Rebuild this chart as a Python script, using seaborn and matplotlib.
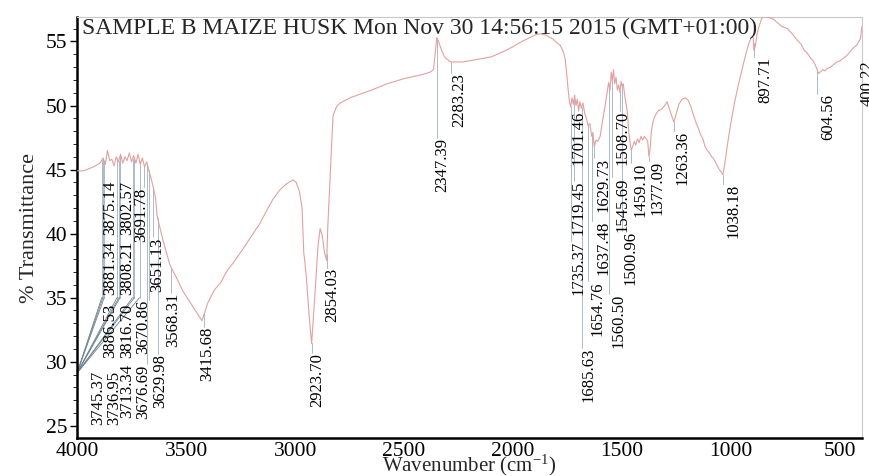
import numpy as np
import pandas as pd
import seaborn as sns
import matplotlib
matplotlib.use("Agg")
from matplotlib import pyplot as plt

TITLE = 'SAMPLE B MAIZE HUSK Mon Nov 30 14:56:15 2015 (GMT+01:00)'

# spectrum (wavenumber, % transmittance)
WAVENUMBER = [
    4000, 3970, 3940, 3915, 3895, 3880, 3870, 3860, 3850, 3840, 3830, 3820,
    3810, 3800, 3790, 3780, 3770, 3760, 3750, 3740, 3730, 3720, 3710, 3700,
    3690, 3680, 3670, 3660, 3650, 3640, 3633, 3606, 3573, 3545, 3514, 3480,
    3450, 3427, 3400, 3370, 3340, 3312, 3280, 3239, 3200, 3161, 3130, 3101,
    3070, 3046, 3020, 3009, 2995, 2980, 2968, 2960, 2955, 2948, 2935, 2924,
    2918, 2908, 2895, 2885, 2875, 2865, 2855, 2850, 2839, 2826, 2810, 2794,
    2770, 2748, 2700, 2650, 2578, 2500, 2420, 2381, 2365, 2350, 2342, 2330,
    2315, 2295, 2283, 2270, 2230, 2165, 2100, 2046, 2000, 1960, 1936, 1900,
    1876, 1850, 1830, 1817, 1800, 1784, 1770, 1761, 1755, 1748, 1742, 1736,
    1730, 1724, 1718, 1712, 1706, 1700, 1694, 1688, 1680, 1672, 1664, 1656,
    1648, 1640, 1634, 1628, 1620, 1612, 1601, 1590, 1580, 1569, 1562, 1556,
    1550, 1545, 1540, 1534, 1528, 1522, 1516, 1510, 1505, 1500, 1495, 1490,
    1484, 1477, 1470, 1463, 1458, 1450, 1444, 1438, 1430, 1422, 1414, 1406,
    1398, 1390, 1383, 1377, 1372, 1366, 1358, 1349, 1335, 1320, 1305, 1294,
    1285, 1275, 1263, 1250, 1240, 1225, 1210, 1197, 1185, 1174, 1160, 1150,
    1142, 1130, 1120, 1110, 1100, 1090, 1083, 1070, 1055, 1045, 1038, 1030,
    1015, 1000, 985, 970, 959, 945, 930, 920, 913, 905, 899, 896, 890, 880,
    870, 860, 853, 840, 825, 807, 790, 770, 743, 720, 697, 680, 665, 651,
    640, 625, 615, 606, 600, 592, 580, 570, 560, 545, 530, 515, 500, 485,
    470, 455, 440, 425, 415, 408, 403, 400,
]
TRANSMITTANCE = [
    44.9, 44.9, 45.1, 45.3, 45.5, 45.9, 45.4, 46.5, 45.7, 45.8, 45.3, 46.0,
    45.6, 46.2, 45.5, 46.0, 45.7, 46.3, 45.6, 46.1, 45.5, 46.2, 45.4, 45.9,
    45.2, 45.6, 44.9, 44.3, 43.6, 42.8, 41.4, 39.5, 37.5, 36.6, 35.5, 34.6,
    33.8, 33.2, 34.6, 35.6, 36.2, 37.1, 37.8, 38.8, 39.8, 40.8, 41.8, 42.7,
    43.4, 43.8, 44.1, 44.2, 44.0, 43.3, 42.0, 38.5, 37.8, 36.5, 33.5, 31.4,
    33.0, 35.5, 39.0, 40.4, 39.8, 38.5, 37.9, 40.5, 44.5, 49.2, 49.9, 50.2,
    50.4, 50.6, 50.9, 51.2, 51.7, 52.1, 52.4, 52.6, 52.8, 55.3, 55.0, 54.4,
    53.8, 53.5, 53.4, 53.4, 53.4, 53.6, 53.8, 54.2, 54.6, 55.0, 55.2, 55.5,
    55.6, 55.5, 55.3, 55.2, 54.9, 54.7, 54.2, 53.6, 52.6, 51.3, 50.3, 49.9,
    50.6, 50.1, 50.8, 50.0, 50.5, 49.6, 50.3, 49.8, 50.2, 49.4, 49.0, 48.4,
    48.6, 47.6, 47.9, 46.8, 47.3, 47.2, 47.6, 48.8, 49.8, 51.0, 51.8, 51.2,
    52.6, 51.9, 52.8, 51.7, 52.2, 51.2, 51.6, 51.0, 51.9, 51.5, 51.7, 51.0,
    50.3, 49.6, 48.0, 47.0, 46.5, 46.9, 47.2, 46.9, 47.4, 47.1, 47.6, 47.3,
    47.6, 47.4, 47.2, 46.0, 46.6, 48.0, 48.8, 49.2, 49.6, 49.7, 50.0, 50.3,
    49.8, 49.3, 48.7, 49.5, 50.1, 50.5, 50.6, 50.4, 49.9, 49.3, 48.6, 48.2,
    47.8, 47.4, 46.8, 46.5, 46.3, 46.0, 45.9, 45.5, 45.0, 44.8, 44.6, 45.4,
    47.2, 48.8, 50.2, 51.4, 52.2, 53.2, 54.2, 54.8, 55.1, 55.4, 55.3, 54.3,
    54.6, 55.7, 56.3, 56.8, 56.95, 56.9, 56.85, 56.75, 56.5, 56.2, 56.0, 55.6,
    55.1, 54.8, 54.3, 54.1, 53.8, 53.5, 53.2, 52.8, 52.5, 52.6, 52.8, 52.7,
    52.9, 53.0, 53.2, 53.4, 53.5, 53.7, 53.9, 54.2, 54.5, 54.7, 55.0, 55.2,
    55.8, 56.2,
]

# labelled peaks
PEAKS = [
    3886.53, 3881.34, 3875.14, 3816.70, 3808.21, 3802.57, 3745.37, 3736.95,
    3713.34, 3691.78, 3676.69, 3670.86, 3651.13, 3629.98, 3568.31, 3415.68,
    2923.70, 2854.03, 2347.39, 2283.23, 1735.37, 1719.45, 1701.46, 1685.63,
    1654.76, 1637.48, 1629.73, 1560.50, 1545.69, 1508.70, 1500.96, 1459.10,
    1377.09, 1263.36, 1038.18, 897.71, 604.56, 400.22,
]

# where each label sits (text centre wavenumber, top of text in %T)
LABEL_X = [
    3849, 3849, 3849, 3771, 3771, 3771, 3904, 3830, 3772, 3704, 3697, 3697,
    3633, 3619, 3560, 3404, 2900, 2830, 2325, 2245, 1702, 1702, 1702, 1656,
    1615, 1587, 1587, 1518, 1500, 1500, 1463, 1417, 1339, 1225, 991, 844,
    555, 375,
]
LABEL_TOP = [
    34.5, 39.45, 44.1, 34.5, 39.45, 44.1, 29.3, 29.3, 29.8, 43.6, 29.8, 34.8,
    39.7, 30.6, 35.4, 32.7, 30.7, 37.3, 47.5, 52.5, 39.45, 44.1, 49.6, 31.1,
    36.3, 41.0, 45.9, 35.3, 44.4, 49.6, 40.2, 45.5, 45.7, 48.0, 43.9, 53.75,
    50.9, 53.5,
]

sns.set_style('ticks')
plt.rcParams['font.family'] = ['Liberation Serif', 'DejaVu Serif']
plt.rcParams['mathtext.fontset'] = 'stix'

df = pd.DataFrame({'Wavenumber': WAVENUMBER, 'T': TRANSMITTANCE})

fig = plt.figure(figsize=(8.69, 4.76), dpi=100)
ax = fig.add_axes([0.0886, 0.080, 0.9034, 0.884])

sns.lineplot(data=df, x='Wavenumber', y='T', sort=False, ax=ax,
             color='#e3a0a0', linewidth=0.8, zorder=3)

wn_sorted = np.array(WAVENUMBER[::-1])
t_sorted = np.array(TRANSMITTANCE[::-1])

for peak, lx, top in zip(PEAKS, LABEL_X, LABEL_TOP):
    y0 = np.interp(peak, wn_sorted, t_sorted)
    if peak > 3700:
        # fan of leader lines collapsing to the lower left corner
        ax.plot([peak, peak], [y0, 35.0], color='#9fb0ba', lw=0.6, zorder=2)
        ax.plot([peak, 4000], [35.0, 29.1], color='#6f8390', lw=0.6, zorder=2)
    else:
        ax.plot([peak, peak], [y0, top], color='#9fb0ba', lw=0.6, zorder=2)
    ax.text(lx, top, f'{peak:.2f}', rotation=90, ha='center', va='top',
            fontsize=12, color='black', zorder=4, clip_on=False)

ax.text(0.007, 0.974, TITLE, transform=ax.transAxes, ha='left',
        va='center', fontsize=17, zorder=5)

ax.set_xlim(4000, 400)
ax.set_ylim(24.05, 56.9)
ax.set_xticks([4000, 3500, 3000, 2500, 2000, 1500, 1000, 500])
ax.set_yticks([25, 30, 35, 40, 45, 50, 55])
ax.set_yticks(np.arange(25, 57, 1), minor=True)
ax.tick_params(axis='both', labelsize=15.5, colors='black')
ax.tick_params(axis='x', length=0, pad=3)
ax.tick_params(axis='y', which='major', length=5, width=1, pad=2)
ax.tick_params(axis='y', which='minor', length=3, width=0.7)
ax.set_xlabel(r'Wavenumber (cm$^{\mathregular{-1}}$)', fontsize=15,
              labelpad=-6)
ax.set_ylabel('% Transmittance', fontsize=16, labelpad=5)

for side in ['left', 'bottom']:
    ax.spines[side].set_linewidth(1.8)
    ax.spines[side].set_color('black')
for side in ['top', 'right']:
    ax.spines[side].set_visible(True)
    ax.spines[side].set_linewidth(0.8)
    ax.spines[side].set_color('#c8c8c8')

fig.savefig('out.png', dpi=100)
